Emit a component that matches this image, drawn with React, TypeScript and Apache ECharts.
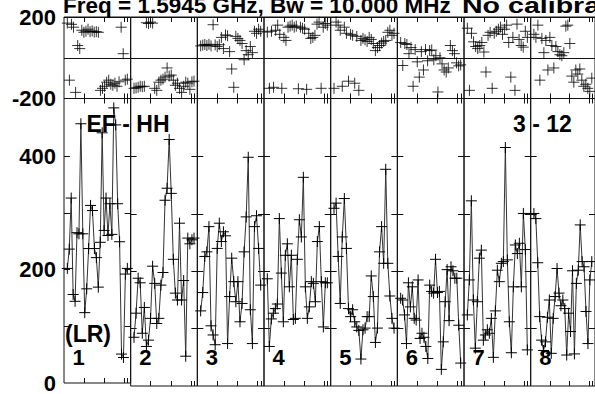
import React, { useEffect, useRef } from "react";
import * as echarts from "echarts";

// ---------- texts ----------
const TITLE_MAIN = "Freq = 1.5945 GHz, Bw = 10.000 MHz";
const TITLE_NOTE = "No calibration";
const BASELINE_LABEL = "EF - HH";
const PAGE_LABEL = "3 - 12";
const STOKES_LABEL = "(LR)";
const antennas = ["1", "2", "3", "4", "5", "6", "7", "8"];

// ---------- axis ticks ----------
const ampTickValues = [100, 200, 300, 400];
const ampLabelValues = [0, 200, 400];
const phaseLabelValues = [-200, 200];
const timeTicks = [0.3, 0.605, 0.905, 0.955];

// ---------- amplitude per antenna (lower panel) ----------
const amp1 = [202, 236, 326, 156, 144, 265, 263, 457, 263, 124, 166, 237, 313, 304, 237, 221, 169, 248, 441, 269, 326, 260, 316, 262, 485, 455, 316, 249, 51, 45, 192, 202];
const amp2 = [85, 127, 188, 180, 92, 137, 69, 80, 118, 209, 179, 109, 118, 176, 198, 324, 345, 430, 336, 221, 162, 150, 284, 150, 184, 52, 258, 248, 255, 258];
const amp3 = [131, 163, 226, 234, 278, 105, 89, 72, 240, 284, 252, 269, 262, 74, 156, 223, 182, 147, 182, 112, 144, 234, 295, 399, 133, 74, 278, 297, 240, 176];
const amp4 = [187, 69, 117, 127, 135, 143, 292, 197, 112, 228, 248, 173, 228, 116, 118, 221, 290, 260, 364, 173, 118, 138, 182, 179, 147, 252, 278, 182, 103, 180, 180];
const amp5 = [310, 319, 226, 144, 260, 327, 240, 135, 121, 133, 112, 103, 97, 47, 98, 101, 121, 121, 192, 156, 76, 101, 234, 278, 214, 378, 214, 157, 118, 101];
const amp6 = [153, 150, 124, 74, 180, 138, 173, 118, 115, 185, 83, 92, 85, 69, 48, 176, 165, 162, 221, 163, 165, 29, 77, 147, 203, 114, 208, 201, 188, 188, 106, 40];
const amp7 = [124, 185, 323, 150, 66, 147, 223, 237, 80, 89, 98, 92, 118, 50, 131, 202, 182, 214, 217, 416, 220, 112, 58, 173, 246, 231, 249, 173, 301, 238, 63];
const amp8 = [301, 292, 215, 121, 80, 62, 77, 120, 150, 57, 118, 156, 205, 162, 140, 150, 135, 54, 127, 95, 201, 56, 179, 202, 281, 217, 208, 130, 74, 185, 217];

// ---------- phase per antenna (upper panel) ----------
const phase1 = [170, -110, 164, 150, -170, 60, 45, 135, 125, 130, 140, 128, 132, 126, 128, 125, -160, -150, -140, -120, -110, -130, -135, -125, -140, -118, 150, 20, -110, -105];
const phase2 = [-150, -148, -145, -140, -142, -140, 172, 168, 175, 170, -150, -160, -120, -110, -105, -95, -50, -90, -85, -110, -135, -125, -150, -170, -140, -120, -125, -155, -118, -115];
const phase3 = [58, 62, 65, 60, 66, 58, 162, 63, 55, 64, 100, 45, 112, 108, 30, -55, -145, 105, 95, 85, 70, -10, 35, 15, 55, 25, 130, 120, 140, 130];
const phase4 = [126, -150, 130, -145, 135, 160, 115, -150, 100, 85, 150, 155, 160, 150, 155, -152, 150, 145, 140, -155, 120, 95, 100, 110, 165, 175, -150, 150, 168, 160];
const phase5 = [-150, 175, 160, 135, -140, 150, 120, -115, 115, 110, -125, 105, -160, 85, 95, 88, 80, 100, 90, 70, 35, 50, 60, 72, 80, 85, 125, 135, 110, 120];
const phase6 = [75, -38, 70, 65, 20, 50, -140, 40, -20, -95, 30, -60, 40, -15, 35, 38, -10, 10, -168, 0, -30, -60, -70, -50, 60, 35, 20, -25, -40, -35];
const phase7 = [145, -160, 120, 78, 55, 45, 60, 75, 28, -70, 110, 125, -150, 120, 130, 140, 150, 115, 140, 160, 75, -95, 100, -160, 165, 90, 60, 52, 130, 100];
const phase8 = [115, 100, 160, -110, 95, 25, 85, -60, 100, 60, -50, 55, 30, 15, 10, 25, 155, 160, 70, -90, -120, -60, -80, -55, -110, -140, -130, -150, -165, -100];

const amplitudes = [amp1, amp2, amp3, amp4, amp5, amp6, amp7, amp8];
const phases = [phase1, phase2, phase3, phase4, phase5, phase6, phase7, phase8];

// ---------- layout ----------
const W = 595;
const H = 394;
const LEFT = 64;
const PW = 66.67;
const UP_TOP = 17;
const UP_H = 81.5;
const LO_TOP = 98.5;
const LO_H = 287.5;
const AMP_MAX = 501.5;
const FONT = "'Liberation Sans', Arial, Helvetica, sans-serif";
const INK = "#111";
const CROSS = "path://M0,5.5H11M5.5,0V11";

function timesFor(n: number): number[] {
  const out: number[] = [];
  for (let i = 0; i < n; i++) out.push(0.05 + (0.9 * i) / (n - 1));
  return out;
}

function buildOption() {
  const grid: any[] = [];
  const xAxis: any[] = [];
  const yAxis: any[] = [];
  const series: any[] = [];
  const graphic: any[] = [];

  const xAx = (gridIndex: number, position: string) => ({
    type: "value",
    gridIndex,
    position,
    min: 0,
    max: 1,
    axisLine: { show: false, onZero: false },
    axisTick: { show: true, inside: true, length: 5, customValues: timeTicks, lineStyle: { color: INK, width: 1 } },
    axisLabel: { show: false },
    splitLine: { show: false },
  });

  const labelStyle = { color: "#000", fontFamily: FONT, fontWeight: "bold", fontSize: 22, margin: 8 };

  for (let k = 0; k < 8; k++) {
    const left = LEFT + k * PW;
    // upper (phase)
    const gUp = grid.length;
    grid.push({ left, top: UP_TOP, width: PW, height: UP_H, show: true, borderColor: INK, borderWidth: 1, backgroundColor: "transparent" });
    const xUp = xAxis.length;
    xAxis.push(xAx(gUp, "bottom"));
    xAxis.push(xAx(gUp, "top"));
    const yUp = yAxis.length;
    yAxis.push({
      type: "value",
      gridIndex: gUp,
      position: "left",
      min: -200,
      max: 200,
      interval: 200,
      axisLine: { show: false, onZero: false },
      axisTick: { show: false },
      axisLabel: { show: k === 0, customValues: phaseLabelValues, ...labelStyle },
      splitLine: { show: true, lineStyle: { color: INK, width: 1 } },
    });

    // lower (amplitude)
    const gLo = grid.length;
    grid.push({ left, top: LO_TOP, width: PW, height: LO_H, show: true, borderColor: INK, borderWidth: 1, backgroundColor: "transparent" });
    const xLo = xAxis.length;
    xAxis.push(xAx(gLo, "bottom"));
    xAxis.push(xAx(gLo, "top"));
    const yLo = yAxis.length;
    const ampAxis = (position: string, labels: boolean) => ({
      type: "value",
      gridIndex: gLo,
      position,
      min: 0,
      max: AMP_MAX,
      interval: 100,
      axisLine: { show: false, onZero: false },
      axisTick: { show: true, inside: true, length: 6, customValues: ampTickValues, lineStyle: { color: INK, width: 1 } },
      axisLabel: { show: labels, customValues: ampLabelValues, ...labelStyle },
      splitLine: { show: false },
    });
    yAxis.push(ampAxis("left", k === 0));
    yAxis.push(ampAxis("right", false));

    const amp = amplitudes[k];
    const ta = timesFor(amp.length);
    series.push({
      type: "line",
      xAxisIndex: xLo,
      yAxisIndex: yLo,
      data: amp.map((v, i) => [ta[i], v]),
      symbol: CROSS,
      symbolSize: 11,
      showSymbol: true,
      showAllSymbol: true,
      silent: true,
      lineStyle: { color: "#333", width: 1 },
      itemStyle: { color: "#000", borderColor: "#000", borderWidth: 1 },
    });

    const ph = phases[k];
    const tp = timesFor(ph.length);
    series.push({
      type: "scatter",
      xAxisIndex: xUp,
      yAxisIndex: yUp,
      data: ph.map((v, i) => [tp[i], v]),
      symbol: CROSS,
      symbolSize: 11,
      silent: true,
      itemStyle: { color: "#000", borderColor: "#000", borderWidth: 1 },
    });

    graphic.push({
      type: "text",
      x: left + 8.5,
      y: 357,
      z: 100,
      style: { text: antennas[k], fontSize: 22, fontWeight: "bold", fontFamily: FONT, fill: "#000", align: "left", verticalAlign: "middle", lineHeight: 18 },
    });
  }

  const txt = (text: string, x: number, y: number, size = 22, scaleX = 1) => ({
    type: "text",
    x,
    y,
    scaleX,
    z: 100,
    style: { text, fontSize: size, fontWeight: "bold", fontFamily: FONT, fill: "#000", align: "left", verticalAlign: "middle", lineHeight: 18 },
  });
  graphic.push(txt(TITLE_MAIN, 63, 5, 22.5));
  graphic.push(txt(TITLE_NOTE, 462, 5, 22.5, 1.27));
  graphic.push(txt(BASELINE_LABEL, 86.5, 124, 23));
  graphic.push(txt(PAGE_LABEL, 513, 124, 23));
  graphic.push(txt(STOKES_LABEL, 65, 334, 23));

  return {
    animation: false,
    backgroundColor: "#fff",
    grid,
    xAxis,
    yAxis,
    series,
    graphic,
  };
}

export default function App() {
  const ref = useRef<HTMLDivElement>(null);
  useEffect(() => {
    if (!ref.current) return;
    const chart = echarts.init(ref.current, undefined, { renderer: "svg", width: W, height: H });
    chart.setOption(buildOption() as any);
    return () => chart.dispose();
  }, []);
  return <div ref={ref} style={{ position: "absolute", left: 0, top: 0, width: W, height: H, overflow: "hidden", background: "#fff" }} />;
}
